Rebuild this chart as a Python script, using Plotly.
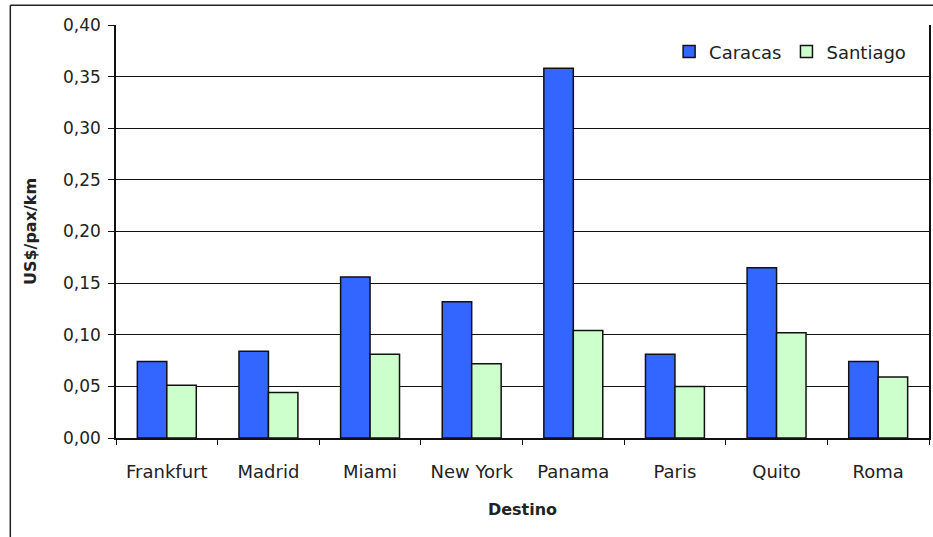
import plotly.graph_objects as go

# Cost per passenger-km by destination, for flights out of each city
destinos = ["Frankfurt", "Madrid", "Miami", "New York", "Panama", "Paris", "Quito", "Roma"]
caracas = [0.074, 0.084, 0.156, 0.132, 0.358, 0.081, 0.165, 0.074]
santiago = [0.051, 0.044, 0.081, 0.072, 0.104, 0.050, 0.102, 0.059]

tick_vals = [0.00, 0.05, 0.10, 0.15, 0.20, 0.25, 0.30, 0.35, 0.40]

text_color = "#222222"

fig = go.Figure()
fig.add_trace(go.Bar(
    name="Caracas", x=destinos, y=caracas,
    marker=dict(color="#3366FF", line=dict(color="#111111", width=1.5)),
))
fig.add_trace(go.Bar(
    name="Santiago", x=destinos, y=santiago,
    marker=dict(color="#CCFFCC", line=dict(color="#111111", width=1.5)),
))

fig.update_layout(
    width=933, height=537,
    margin=dict(l=116, r=2, t=25, b=99),
    paper_bgcolor="white", plot_bgcolor="white",
    separators=",.",
    barmode="group", bargap=0.42, bargroupgap=0.0,
    showlegend=True,
    legend=dict(
        orientation="h", x=0.978, xanchor="right", y=0.935, yanchor="middle",
        font=dict(family="DejaVu Sans", size=18, color=text_color),
        bgcolor="rgba(0,0,0,0)", itemwidth=30, tracegroupgap=0,
    ),
    xaxis=dict(
        type="category", tickson="boundaries",
        ticks="outside", ticklen=5, tickcolor="#111111", tickwidth=1,
        showline=True, linecolor="#111111", linewidth=1.5,
        showgrid=False, ticklabelstandoff=17,
        tickfont=dict(family="DejaVu Sans", size=18, color=text_color),
        title=dict(text="<b>Destino</b>", standoff=22,
                   font=dict(family="DejaVu Sans", size=16, color=text_color)),
    ),
    yaxis=dict(
        range=[0, 0.40], tickvals=tick_vals, tickformat=".2f",
        ticks="outside", ticklen=6, tickcolor="#111111", tickwidth=1,
        showline=True, linecolor="#111111", linewidth=1.5, mirror=True,
        showgrid=True, gridcolor="#111111", gridwidth=1,
        zeroline=False, ticklabelstandoff=4,
        tickfont=dict(family="DejaVu Sans", size=17, color=text_color),
        title=dict(text="<b>US$/pax/km</b>", standoff=22,
                   font=dict(family="DejaVu Sans", size=16, color=text_color)),
    ),
)

# Outer chart frame (top and left edges)
fig.add_shape(type="line", xref="paper", yref="paper",
              x0=-0.130, x1=1.01, y0=1.048, y1=1.048,
              line=dict(color="#222222", width=1.5))
fig.add_shape(type="line", xref="paper", yref="paper",
              x0=-0.130, x1=-0.130, y0=1.048, y1=-0.30,
              line=dict(color="#222222", width=1.5))

fig.write_html("out.html")
